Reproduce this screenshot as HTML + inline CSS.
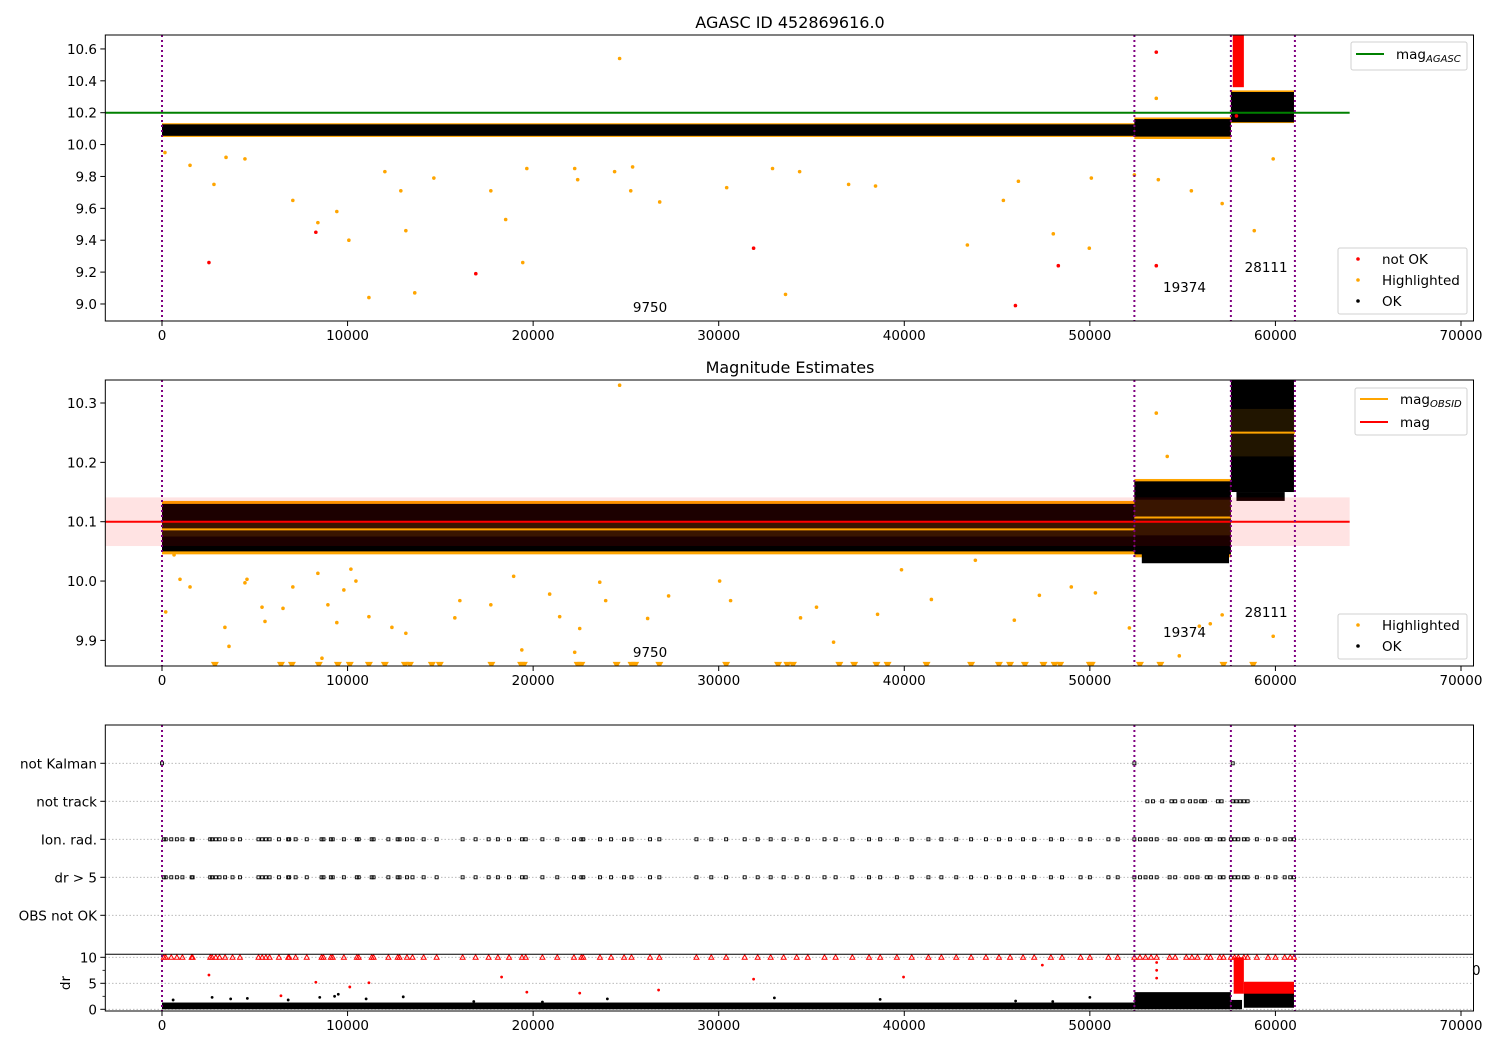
<!DOCTYPE html>
<html><head><meta charset="utf-8"><style>
html,body{margin:0;padding:0;background:#fff}
svg{display:block;font-family:"DejaVu Sans","Liberation Sans",sans-serif}
</style></head><body>
<svg id="fig" width="1500" height="1050" viewBox="0 0 1500 1050" xmlns="http://www.w3.org/2000/svg">
<defs>
<clipPath id="c1"><rect x="105.3" y="35" width="1368.2" height="286"/></clipPath>
<clipPath id="c2"><rect x="105.3" y="380" width="1368.2" height="286"/></clipPath>
<clipPath id="c3"><rect x="105.3" y="725" width="1368.2" height="286"/></clipPath>
</defs>
<text x="790" y="28" text-anchor="middle" font-size="16">AGASC ID 452869616.0</text>
<text x="790" y="373" text-anchor="middle" font-size="16">Magnitude Estimates</text>
<g id="p1" clip-path="url(#c1)"></g>
<g id="p2" clip-path="url(#c2)"></g>
<g id="p3" clip-path="url(#c3)"></g>
<g id="axes"></g>
</svg>
<script>
// ---------- data ----------
const obsTimes = [0, 52400, 57600, 61050];
const obsLabels = ["9750", "19374", "28111"];
const obsLabelX = [26300, 55100, 59500];
const magAgasc = 10.2;
const magMean = 10.1;
const magStd = 0.041;
const obsMean = [10.087, 10.107, 10.25];
const obsStd = [0.012, 0.03, 0.04];
// bands of dense OK points: [t0, t1, lo, hi]
const okBand1 = [[0,52400,10.055,10.127],[52400,57600,10.05,10.16],[57600,61000,10.14,10.33]];
const hlBand1 = [[0,52400,10.048,10.134],[52400,57600,10.035,10.17],[57600,61000,10.135,10.34]];
const notOkBand1 = [[57700,58300,10.36,10.69]];
const hlT1 = [160,1510,2800,3450,4470,7050,8400,9420,10070,11150,12010,12870,13140,13620,14650,17720,18520,19440,19660,22240,22400,24390,24660,25260,25360,26820,30430,32900,33600,34360,37000,38450,43400,45340,46150,48030,49970,50080,52400,53580,53690,55470,57130,58860,59880];
const hlV1 = [9.95,9.87,9.75,9.92,9.91,9.65,9.51,9.58,9.40,9.04,9.83,9.71,9.46,9.07,9.79,9.71,9.53,9.26,9.85,9.85,9.78,9.83,10.54,9.71,9.86,9.64,9.73,9.85,9.06,9.83,9.75,9.74,9.37,9.65,9.77,9.44,9.35,9.79,9.81,10.29,9.78,9.71,9.63,9.46,9.91];
const badT1 = [2530,8290,31880,16910,48300,45990,53580,53580,57900];
const badV1 = [9.26,9.45,9.35,9.19,9.24,8.99,10.58,9.24,10.18];

const okBand2 = [[0,52400,10.05,10.13],[52400,57600,10.045,10.168],[52800,57500,10.03,10.05],[57600,61000,10.15,10.339],[57900,60500,10.135,10.15]];
const hlBand2 = [[0,52400,10.045,10.135],[52400,57600,10.04,10.172]];
const hlT2 = [200,650,970,1510,3390,3610,4470,4580,5390,5550,6520,7050,8400,8620,8940,9420,9800,10180,10450,11150,12390,13140,15780,16050,17720,18950,19390,20890,21430,22240,22510,23590,23910,24660,26170,27300,30050,30640,34410,35270,36190,38560,39850,41460,43830,45930,47280,49000,50300,52130,53580,54820,55900,56490,57130,59880,54170];
const hlV2 = [9.948,10.044,10.003,9.99,9.922,9.89,9.997,10.003,9.956,9.932,9.954,9.99,10.013,9.87,9.96,9.93,9.985,10.02,10.0,9.94,9.922,9.912,9.938,9.967,9.96,10.008,9.884,9.978,9.94,9.88,9.92,9.998,9.967,10.33,9.937,9.975,10.0,9.967,9.938,9.956,9.897,9.944,10.019,9.969,10.035,9.934,9.976,9.99,9.98,9.921,10.283,9.874,9.924,9.928,9.943,9.907,10.21];
const lowT2 = [2850,6410,7000,8450,9480,10120,11150,12010,13090,13360,14540,14970,17750,19350,19500,22400,22600,24500,25300,25500,26800,30400,33200,33700,34000,36500,37300,38500,39100,41200,43600,45100,45700,46500,47500,48100,48400,50000,50100,52700,53800,57200,58800];
const magLow2 = 9.857;

const flagT = [100,200,500,800,1100,1600,1650,2600,2700,2900,3100,3400,3800,4200,5200,5400,5600,5800,6300,6800,6850,7200,7800,8600,8700,9100,9200,9800,10500,10600,11300,11400,12200,12700,12800,13200,13500,14100,14800,16200,16900,17600,18100,18700,19400,19600,20500,21300,22200,22600,22700,23600,24200,24900,25300,26300,26800,28800,29600,30400,31400,32100,32800,33500,34200,34800,35700,36300,37200,38100,38700,39600,40400,41300,42000,42800,43600,44400,45100,45700,46400,47000,47900,48500,49500,50000,51000,51500,52400,52700,53000,53300,53600,54300,54600,55200,55500,55800,56300,56500,57000,57200,57600,57800,58000,58300,58500,59000,59600,60000,60500,60800,61000];
const trackT = [53100,53400,53900,54400,54600,55000,55400,55700,56000,56200,56900,57100,57700,57900,58100,58300,58500];
const kalmanT = [0,52400,57700];
const rowLabels = ["not Kalman","not track","Ion. rad.","dr > 5","OBS not OK"];

const drBand = [[0,52400,0,1.3],[52400,57600,0,3.3],[57600,58200,0,1.8],[58300,61000,0.3,3.6]];
const drBadBand = [[57750,58300,3,10],[58300,61000,3.0,5.3]];
const drBadT = [2530,6410,8290,10120,11150,18300,19660,22510,26760,31880,39960,47440,53600,53600,53600];
const drBadV = [6.6,2.6,5.2,4.3,5.1,6.2,3.3,3.1,3.7,5.8,6.2,8.5,9.0,7.5,6.0];
const drOkT = [600,2700,3700,4600,6800,8500,9300,9500,11000,13000,16800,20500,24000,33000,38700,46000,48000,50000];
const drOkV = [1.8,2.3,2.0,2.1,1.8,2.3,2.5,2.9,2.0,2.4,1.5,1.4,2.0,2.2,1.9,1.6,1.5,2.3];

const xTicks = [0,10000,20000,30000,40000,50000,60000,70000];
const y1Ticks = [9.0,9.2,9.4,9.6,9.8,10.0,10.2,10.4,10.6];
const y2Ticks = [9.9,10.0,10.1,10.2,10.3];
const drTicks = [0,5,10];

// ---------- scales ----------
const X = t => 162 + t*0.018557;
const Y1 = v => 112.7 - (v-10.2)*159.4;
const Y2 = v => 521.7 - (v-10.1)*593.5;
const YR = i => 763.3 + 38*i;
const YD = v => 1009.3 - 5.2*v;
const NS = "http://www.w3.org/2000/svg";
function mk(tag, parent, attrs){const e=document.createElementNS(NS,tag);for(const k in attrs)e.setAttribute(k,attrs[k]);parent.appendChild(e);return e;}
const p1=document.getElementById('p1'),p2=document.getElementById('p2'),p3=document.getElementById('p3'),ax=document.getElementById('axes');

function band(g, arr, Y, color, name){
  arr.forEach(b=>{
    const r=mk('rect',g,{x:X(b[0]),y:Y(b[3]),width:X(b[1])-X(b[0]),height:Y(b[2])-Y(b[3]),fill:color});
    
    
  });
}
function dots(g, T, V, Y, color, r, name){
  T.forEach((t,i)=>{
    const c=mk('circle',g,{cx:X(t),cy:Y(V[i]),r:r,fill:color});
    
    
  });
}
function vlines(g, y0, y1){
  obsTimes.forEach(t=>{
    const l=mk('line',g,{x1:X(t),x2:X(t),y1:y0,y2:y1,stroke:'#800080','stroke-width':2,'stroke-dasharray':'2,3'});
    
    
  });
}
function obsText(g, ys){
  obsLabels.forEach((s,i)=>{
    const t=mk('text',g,{x:X(obsLabelX[i]),y:ys[i],'text-anchor':'middle','font-size':13.5});
    t.textContent=s;
    
    
  });
}

// ---------- panel 1 ----------
band(p1, hlBand1, Y1, '#ffa500', 'highlighted-band');
band(p1, okBand1, Y1, '#000', 'ok-band');
band(p1, notOkBand1, Y1, '#ff0000', 'not-ok-band');
dots(p1, hlT1, hlV1, Y1, '#ffa500', 1.8, 'highlighted-point');
dots(p1, badT1, badV1, Y1, '#ff0000', 1.8, 'not-ok-point');
{const l=mk('line',p1,{x1:105,x2:X(64000),y1:Y1(magAgasc),y2:Y1(magAgasc),stroke:'#008000','stroke-width':2});

}
vlines(p1,35,321);
obsText(p1,[312,292,272]);

// ---------- panel 2 ----------
band(p2, hlBand2, Y2, '#ffa500', 'highlighted-band');
band(p2, okBand2, Y2, '#000', 'ok-band');
dots(p2, hlT2, hlV2, Y2, '#ffa500', 1.8, 'highlighted-point');
lowT2.forEach(t=>{
  const p=mk('path',p2,{d:`M${X(t)-4},${Y2(magLow2)-4}h8l-4,7z`,fill:'#ffa500'});
  
  
});
{const r=mk('rect',p2,{x:105,y:Y2(magMean+magStd),width:X(64000)-105,height:Y2(magMean-magStd)-Y2(magMean+magStd),fill:'rgba(255,0,0,0.11)'});

}
obsMean.forEach((m,i)=>{
  const r=mk('rect',p2,{x:X(obsTimes[i]),y:Y2(m+obsStd[i]),width:X(obsTimes[i+1])-X(obsTimes[i]),height:Y2(m-obsStd[i])-Y2(m+obsStd[i]),fill:'rgba(255,165,0,0.13)'});
  
  
});
{const l=mk('line',p2,{x1:105,x2:X(64000),y1:Y2(magMean),y2:Y2(magMean),stroke:'#ff0000','stroke-width':2});

}
obsMean.forEach((m,i)=>{
  const l=mk('line',p2,{x1:X(obsTimes[i]),x2:X(obsTimes[i+1]),y1:Y2(m),y2:Y2(m),stroke:'#ffa500','stroke-width':2});
  
  
});
vlines(p2,380,666);
obsText(p2,[657,637,617]);

// ---------- panel 3 / 4 ----------
[0,1,2,3,4].forEach(i=>{
  const l=mk('line',p3,{x1:105,x2:1474,y1:YR(i),y2:YR(i),stroke:'#b0b0b0','stroke-width':0.8,'stroke-dasharray':'1.5,2'});
  
  
});
drTicks.forEach(v=>{
  const l=mk('line',p3,{x1:105,x2:1474,y1:YD(v),y2:YD(v),stroke:'#b0b0b0','stroke-width':0.8,'stroke-dasharray':'1.5,2'});
  
  
});
function rowPts(T,row){
  T.forEach(t=>{
    const c=mk('rect',p3,{x:X(t)-1.5,y:YR(row)-1.5,width:3,height:3,fill:'none',stroke:'#000','stroke-width':0.9});
    
    
  });
}
rowPts(kalmanT,0); rowPts(trackT,1); rowPts(flagT,2); rowPts(flagT,3);
band(p3, drBand, YD, '#000', 'dr-ok-band');
band(p3, drBadBand, YD, '#ff0000', 'dr-not-ok-band');
dots(p3, drOkT, drOkV, YD, '#000', 1.4, 'dr-ok-point');
dots(p3, drBadT, drBadV, YD, '#ff0000', 1.4, 'dr-not-ok-point');
flagT.forEach(t=>{
  const p=mk('path',p3,{d:`M${X(t)-2.5},${YD(10)+2}h5l-2.5,-4.5z`,fill:'none',stroke:'#ff0000','stroke-width':1});
  
  
});
vlines(p3,725,1011);

// ---------- axes ----------
function frame(y0,h,name){
  const r=mk('rect',ax,{x:105.3,y:y0,width:1368.2,height:h,fill:'none',stroke:'#000','stroke-width':1});
  
  
}
frame(35,286,'panel1-frame'); frame(380,286,'panel2-frame'); frame(725,286,'panel3-frame');
{const l=mk('line',ax,{x1:105.3,x2:1473.5,y1:954.3,y2:954.3,stroke:'#000','stroke-width':1});

}
function xaxis(yb,name){
  xTicks.forEach(t=>{
    const l=mk('line',ax,{x1:X(t),x2:X(t),y1:yb,y2:yb+5,stroke:'#000','stroke-width':1});
    
    
    const s=mk('text',ax,{x:X(t),y:yb+19,'text-anchor':'middle','font-size':13.5});
    s.textContent=String(t);
    
    
  });
}
xaxis(321,'x-axis-1'); xaxis(666,'x-axis-2'); xaxis(1011,'x-axis-3');
function yaxis(ticks,Y,fmt,name){
  ticks.forEach(v=>{
    const l=mk('line',ax,{x1:100.3,x2:105.3,y1:Y(v),y2:Y(v),stroke:'#000','stroke-width':1});
    
    
    const s=mk('text',ax,{x:97,y:Y(v)+5,'text-anchor':'end','font-size':13.5});
    s.textContent=fmt(v);
    
    
  });
}
yaxis(y1Ticks,Y1,v=>v.toFixed(1),'y-axis-1');
yaxis(y2Ticks,Y2,v=>v.toFixed(1),'y-axis-2');
yaxis(rowLabels.map((s,i)=>i),YR,i=>rowLabels[i],'flag-axis');
yaxis(drTicks,YD,v=>String(v),'dr-axis');
[2.5,7.5].forEach(v=>{
  const l=mk('line',ax,{x1:102.5,x2:105.3,y1:YD(v),y2:YD(v),stroke:'#000','stroke-width':0.8});
  
  
});
{const s=mk('text',ax,{x:70,y:983,'text-anchor':'middle','font-size':13.5,transform:'rotate(-90 70 983)'});
s.textContent='dr';


const z=mk('text',ax,{x:1472,y:975,'font-size':13.5});
z.textContent='0';

}

// ---------- legends ----------
function legBox(x,y,w,h,name){
  const r=mk('rect',ax,{x:x,y:y,width:w,height:h,rx:2,fill:'rgba(255,255,255,0.8)',stroke:'#d0d0d0','stroke-width':1});
  
  
}
function legLine(x,y,color,main,sub,name){
  const l=mk('line',ax,{x1:x,x2:x+28,y1:y,y2:y,stroke:color,'stroke-width':2});
  
  
  const t=mk('text',ax,{x:x+40,y:y+5,'font-size':13.5});
  
  
  t.textContent=main;
  if(sub){const ts=mk('tspan',t,{'font-size':10,'font-style':'italic',dy:3});ts.textContent=sub;}
}
function legDot(x,y,color,label,name){
  const c=mk('circle',ax,{cx:x,cy:y,r:1.8,fill:color});
  
  
  const t=mk('text',ax,{x:x+24,y:y+5,'font-size':13.5});
  t.textContent=label;
  
  
}
legBox(1351,42,116,28,'legend-agasc');
legLine(1356,54,'#008000','mag','AGASC','legend-mag-agasc');
legBox(1338,248,129,66,'legend-status-1');
legDot(1358,259,'#ff0000','not OK','legend-not-ok');
legDot(1358,280,'#ffa500','Highlighted','legend-highlighted');
legDot(1358,301,'#000','OK','legend-ok');
legBox(1355,388,112,47,'legend-mag');
legLine(1360,399,'#ffa500','mag','OBSID','legend-mag-obsid');
legLine(1360,422,'#ff0000','mag','','legend-mag-mean');
legBox(1338,614,129,45,'legend-status-2');
legDot(1358,625,'#ffa500','Highlighted','legend-highlighted-2');
legDot(1358,646,'#000','OK','legend-ok-2');
</script>
</body></html>
